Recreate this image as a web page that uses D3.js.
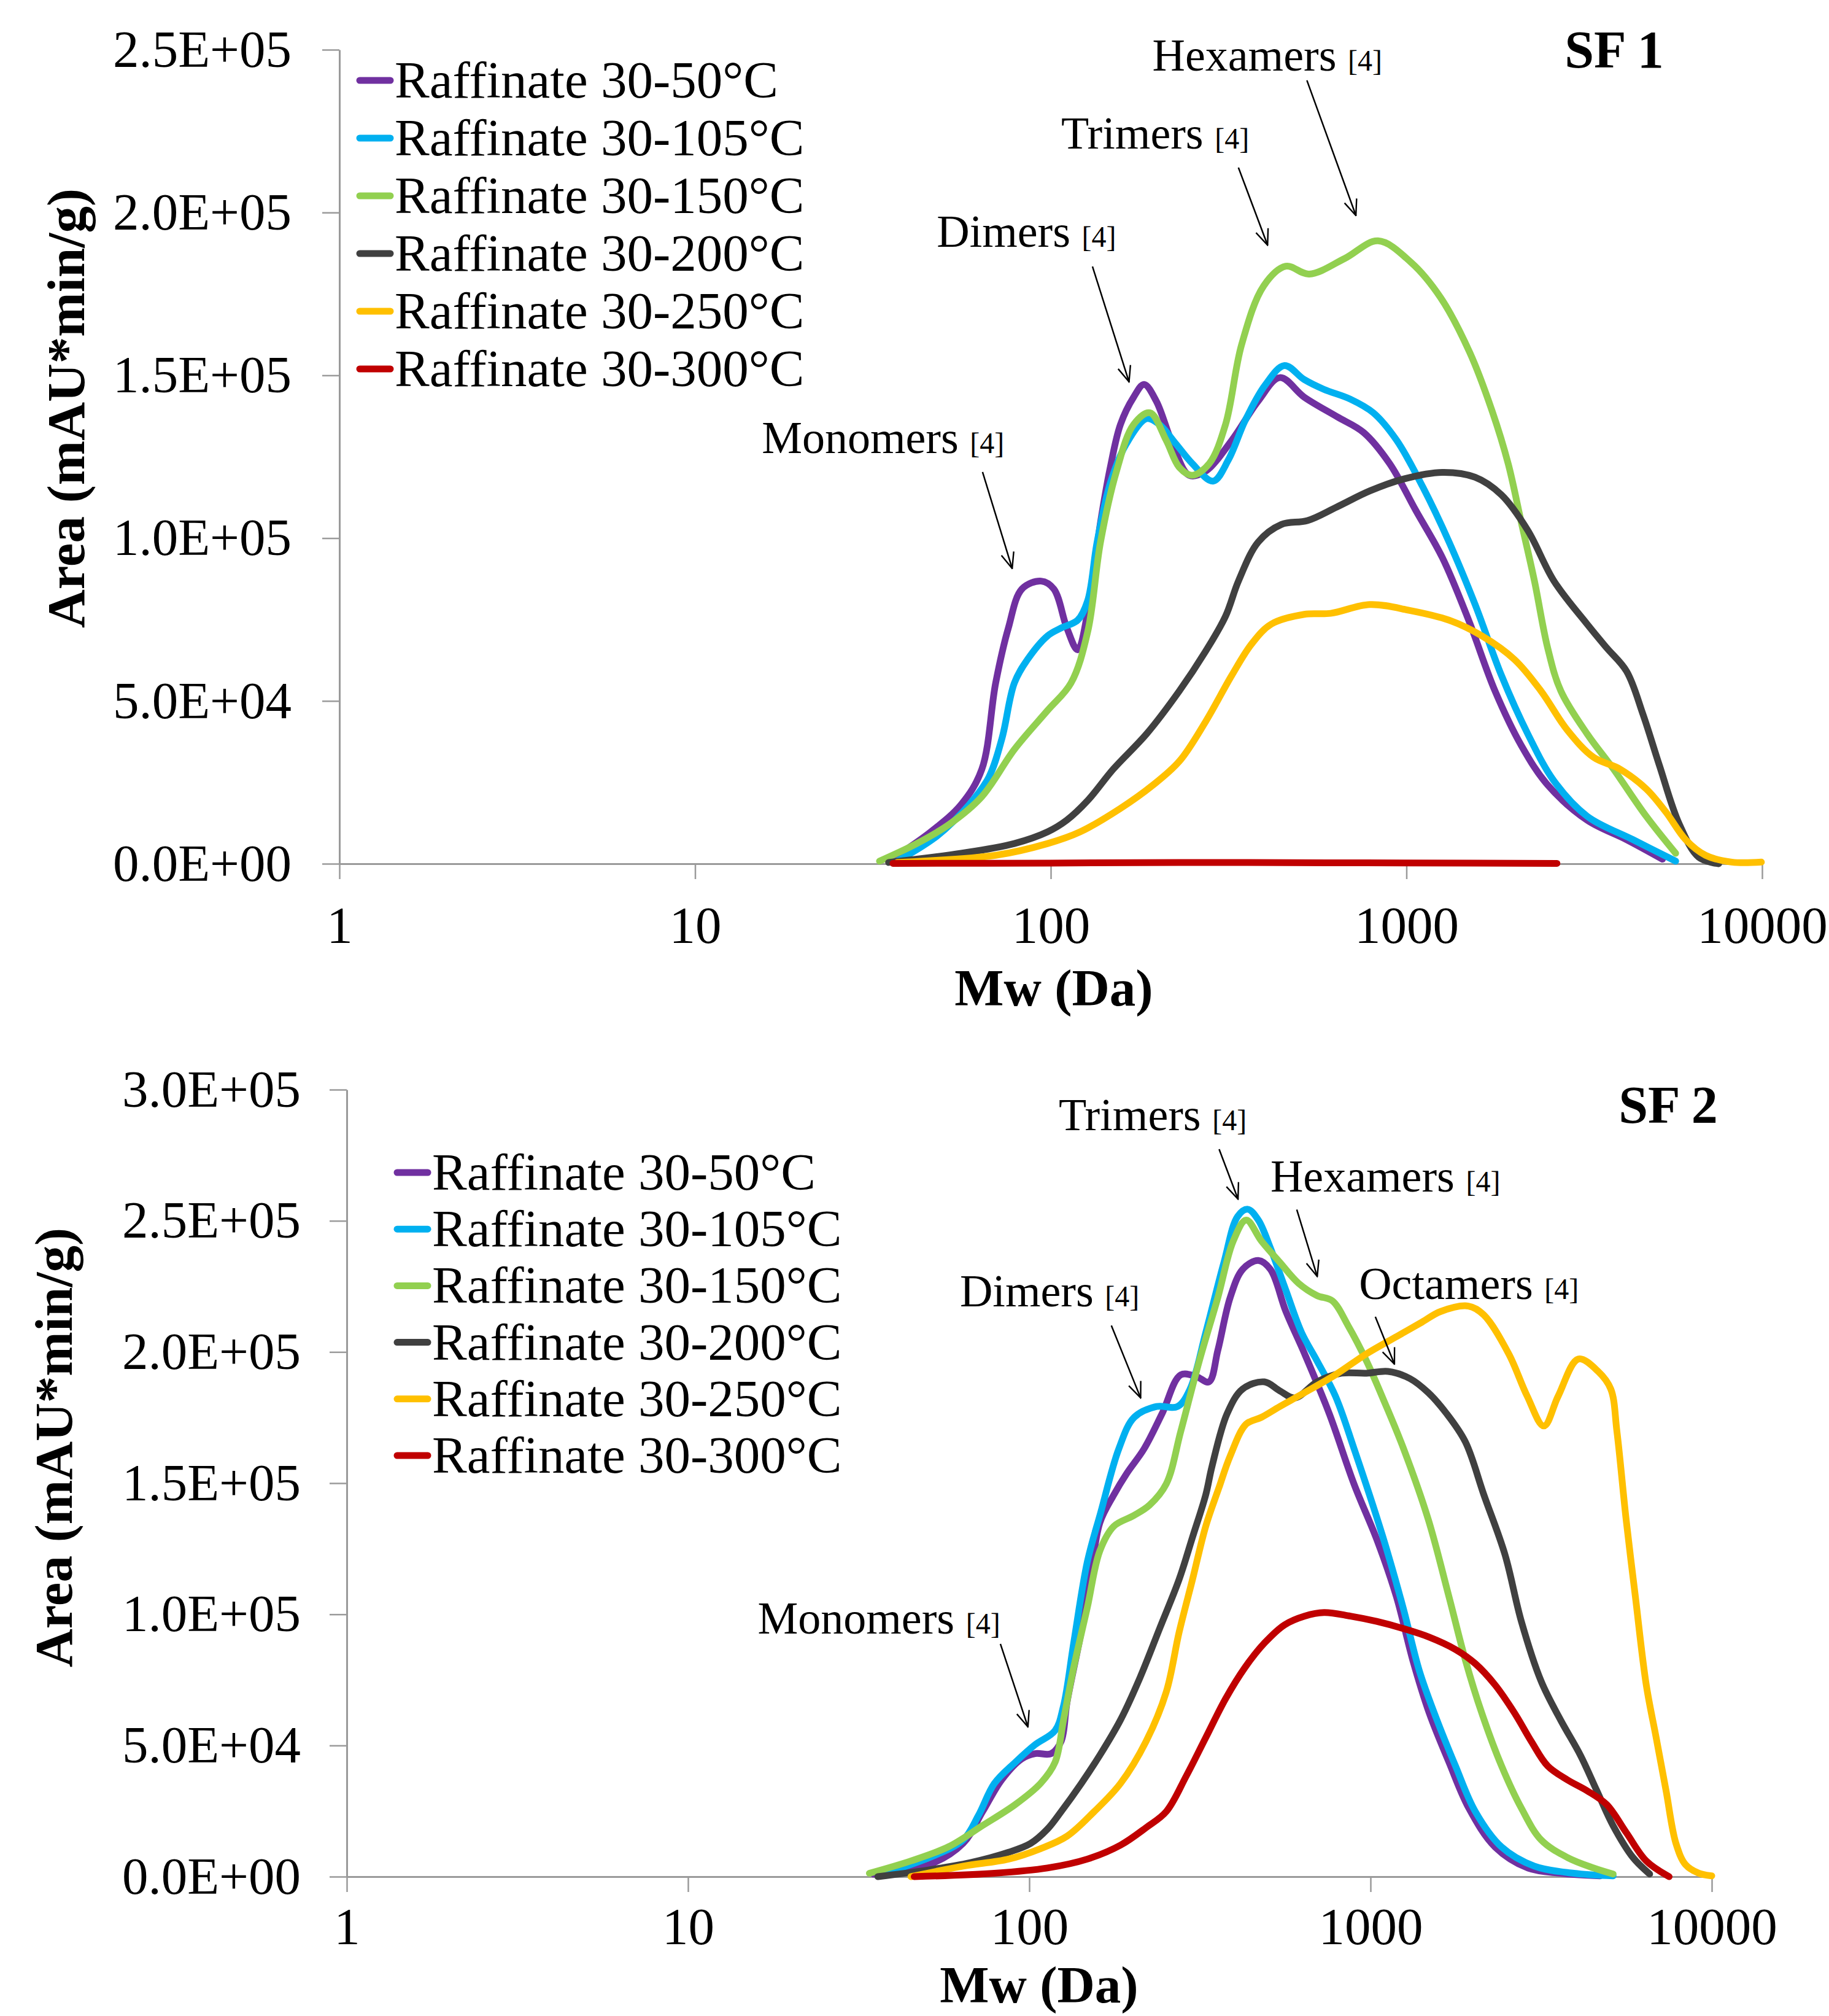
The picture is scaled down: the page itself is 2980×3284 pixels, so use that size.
<!DOCTYPE html>
<html>
<head>
<meta charset="utf-8">
<script src="https://cdn.jsdelivr.net/npm/d3@7"></script>
<style>
  body { margin: 0; background: #fff; }
  svg text { font-family: "Times New Roman", "Liberation Serif", serif; fill: #000; }
</style>
</head>
<body>
<div id="chart"></div>
<script>
// Molecular weight distributions of the raffinates, two panels (SF 1 / SF 2)

const SERIES = ['Raffinate 30-50°C', 'Raffinate 30-105°C', 'Raffinate 30-150°C',
    'Raffinate 30-200°C', 'Raffinate 30-250°C', 'Raffinate 30-300°C'];
const COLORS = ['#7030A0', '#00B0F0', '#92D050', '#404040', '#FFC000', '#C00000'];

const X_TICKS = [1, 10, 100, 1000, 10000];
const SF1_Y_TICKS = [0, 5e4, 1e5, 1.5e5, 2e5, 2.5e5];
const SF2_Y_TICKS = [0, 5e4, 1e5, 1.5e5, 2e5, 2.5e5, 3e5];

// [Mw (Da), area (mAU*min/g)]
const SF1_50 = [[35, 800], [46, 9800], [56, 18200], [64, 29000], [70, 55500], [76, 72400], [83, 84400],
    [94, 86800], [102, 84400], [111, 72400], [119, 65700], [127, 77200], [138, 104800], [147, 121700],
    [157, 134900], [171, 143300], [183, 147200], [198, 142100], [220, 128900], [245, 119300], [272, 120500],
    [323, 130100], [383, 142100], [441, 149300], [516, 143300], [638, 137300], [757, 132500], [897, 122900],
    [1064, 108400], [1262, 94000], [1496, 74800], [1774, 53100], [2104, 36300], [2495, 24200], [3221, 13400],
    [4159, 7400], [5248, 1400]];
const SF1_105 = [[37, 800], [48, 8600], [59, 18200], [67, 26600], [73, 38700], [79, 55500], [86, 62700],
    [98, 70000], [107, 72400], [119, 74800], [127, 80800], [135, 98800], [147, 116900], [163, 128900],
    [186, 136700], [202, 134900], [225, 128900], [250, 122900], [286, 117500], [316, 124100], [352, 136100],
    [400, 146900], [454, 153000], [516, 148700], [586, 145700], [695, 142700], [807, 138500], [938, 130100],
    [1112, 115700], [1318, 98800], [1560, 79600], [1849, 57900], [2193, 39900], [2600, 25400], [3221, 14600],
    [4335, 7400], [5715, 800]];
const SF1_150 = [[33, 800], [42, 6200], [52, 12200], [64, 20600], [79, 35100], [98, 47100], [114, 55500],
    [127, 71200], [138, 98800], [153, 120500], [171, 134900], [190, 138500], [211, 130100], [230, 121700],
    [250, 119300], [279, 122900], [310, 134900], [344, 159400], [397, 177500], [458, 183500], [533, 181100],
    [671, 185900], [832, 191300], [1030, 184700], [1247, 173900], [1507, 157000], [1742, 139000],
    [1932, 122900], [2104, 104800], [2291, 86800], [2495, 66300], [2716, 53100], [3221, 39900],
    [3819, 29100], [4721, 14600], [5715, 3200]];
const SF1_200 = [[35, 400], [56, 3200], [79, 6200], [98, 9800], [111, 13400], [127, 19400], [150, 29100],
    [186, 39900], [230, 53100], [272, 65100], [310, 76000], [337, 86800], [383, 98800], [445, 104200],
    [527, 105400], [638, 109600], [789, 114500], [977, 118100], [1262, 120200], [1560, 118700],
    [1849, 113300], [2193, 102400], [2600, 86800], [3221, 73600], [3656, 66300], [4159, 59100],
    [4624, 45900], [5140, 30300], [5848, 12200], [6637, 2000], [7551, 0]];
const SF1_250 = [[37, 400], [70, 2600], [98, 6200], [121, 9800], [157, 17000], [194, 24200], [230, 31500],
    [272, 43500], [323, 57900], [367, 67500], [417, 73600], [516, 76600], [612, 76900], [789, 79600],
    [1021, 77800], [1318, 74800], [1629, 70000], [2014, 62700], [2388, 53100], [2831, 41100], [3357, 32700],
    [3981, 29100], [4721, 23000], [5370, 15800], [6095, 7400], [6934, 2600], [8222, 500], [9954, 500]];
const SF1_300 = [[36, 100], [100, 200], [250, 400], [600, 300], [1000, 250], [2650, 100]];

const SF2_50 = [[35, 950], [51, 4600], [64, 12700], [73, 24800], [83, 36900], [95, 44900], [104, 46900],
    [116, 46900], [124, 51600], [129, 66400], [142, 93300], [151, 113400], [161, 134900], [177, 145600],
    [193, 153700], [217, 163100], [245, 176500], [278, 191300], [309, 190600], [336, 188600], [357, 200700],
    [388, 220800], [422, 231500], [469, 234900], [509, 231500], [565, 215400], [641, 199300], [757, 176500],
    [895, 149600], [1047, 128000], [1191, 106700], [1330, 82500], [1486, 62400], [1698, 43600],
    [1941, 26100], [2317, 11300], [2891, 3300], [3606, 1300], [4710, 300]];
const SF2_105 = [[36, 500], [51, 7300], [64, 14000], [71, 23400], [79, 35500], [91, 43600], [104, 50300],
    [119, 55700], [126, 65100], [135, 89200], [148, 120100], [162, 138900], [183, 163100], [203, 175100],
    [236, 179200], [272, 179200], [296, 185900], [329, 207400], [372, 234200], [408, 251700], [437, 254400],
    [469, 250300], [509, 239600], [565, 223500], [628, 207400], [697, 196600], [789, 183200], [895, 163100],
    [1084, 130000], [1245, 102700], [1390, 78500], [1552, 61000], [1774, 42200], [2028, 24800],
    [2421, 11300], [3020, 4000], [3945, 1300], [5140, 300]];
const SF2_150 = [[34, 1300], [45, 6000], [58, 11400], [73, 19500], [91, 27500], [108, 35600], [119, 43600],
    [126, 59700], [135, 79800], [148, 102700], [161, 124200], [177, 133600], [202, 137600], [225, 141600],
    [252, 149700], [278, 169800], [315, 196600], [357, 220800], [396, 242300], [432, 250300], [479, 242300],
    [542, 234200], [615, 226200], [697, 221500], [773, 219500], [859, 210100], [973, 196600], [1102, 180500],
    [1250, 163100], [1476, 136200], [1698, 106700], [1897, 82500], [2118, 62400], [2421, 42200],
    [2767, 26100], [3162, 14000], [3776, 7300], [4508, 3300], [5140, 1000]];
const SF2_200 = [[36, 0], [51, 2600], [67, 5300], [87, 9300], [101, 12700], [113, 18100], [124, 24800],
    [142, 35500], [161, 46300], [185, 59700], [211, 75800], [241, 94600], [275, 113400], [301, 129500],
    [329, 145600], [343, 156300], [380, 176500], [422, 185900], [489, 188600], [542, 185200], [601, 182500],
    [697, 188600], [822, 191900], [973, 191900], [1125, 192600], [1303, 189900], [1476, 184500],
    [1671, 176500], [1897, 165700], [2148, 145600], [2477, 122800], [2767, 97300], [3162, 74500],
    [3606, 59700], [4121, 46300], [4603, 32800], [5140, 19400], [5875, 7300], [6577, 1000]];
const SF2_250 = [[45, 0], [64, 4000], [87, 6700], [108, 10700], [129, 15400], [155, 24800], [185, 35500],
    [220, 51600], [252, 70400], [275, 93300], [301, 113400], [329, 133600], [359, 148000], [388, 160400],
    [432, 172500], [479, 175100], [542, 179200], [641, 184500], [789, 191300], [973, 199300], [1197, 206000],
    [1416, 211400], [1603, 215400], [1936, 217500], [2148, 214100], [2541, 199300], [2877, 183200],
    [3221, 171800], [3548, 183200], [4064, 197300], [4645, 192600], [5058, 185900], [5272, 169800],
    [5610, 136200], [5970, 106900], [6427, 73100], [6871, 53000], [7345, 32800], [7852, 12700],
    [8375, 4600], [9162, 1300], [10000, 300]];
const SF2_300 = [[46, 0], [79, 1300], [113, 3300], [148, 6700], [185, 12000], [220, 18700], [252, 24800],
    [288, 38200], [329, 53000], [376, 67800], [429, 79800], [490, 89200], [560, 96000], [640, 99300],
    [731, 100700], [873, 99300], [1042, 97300], [1245, 94600], [1486, 91300], [1774, 86600], [2028, 81200],
    [2317, 73100], [2642, 62400], [2958, 51600], [3304, 42200], [3776, 36900], [4305, 32800], [4920, 27500],
    [5623, 16700], [6427, 6000], [7499, 0]];

// peak labels: text anchor and arrow tail/tip, all in data units [Mw, area]
const SF1_NOTES = [
    { text: 'Monomers', at: [15.4, 126100], from: [64.3, 120300], to: [77.9, 90700] },
    { text: 'Dimers', at: [47.8, 189500], from: [131, 183400], to: [166, 148000] },
    { text: 'Trimers', at: [107, 219600], from: [337, 213800], to: [407, 190000] },
    { text: 'Hexamers', at: [193, 243600], from: [525, 240600], to: [721, 199100] }
];
const SF2_NOTES = [
    { text: 'Monomers', at: [16.0, 92700], from: [82.3, 88700], to: [99.1, 57100] },
    { text: 'Dimers', at: [62.6, 217400], from: [174, 210100], to: [212, 182500] },
    { text: 'Trimers', at: [122, 284500], from: [360, 277300], to: [409, 258300] },
    { text: 'Hexamers', at: [509, 261100], from: [608, 254300], to: [698, 228800] },
    { text: 'Octamers', at: [925, 220200], from: [1033, 213400], to: [1175, 195400] }
];

(function () {
    const W = 2980, H = 3284;
    const FONT = 85;
    const AXIS_GREY = '#9a9a9a';

    const svg = d3.select('#chart').append('svg')
        .attr('width', W).attr('height', H).style('display', 'block');

    svg.append('defs').append('marker')
        .attr('id', 'arrowhead').attr('viewBox', '0 0 20 20')
        .attr('refX', 19).attr('refY', 10)
        .attr('markerWidth', 30).attr('markerHeight', 30)
        .attr('markerUnits', 'userSpaceOnUse').attr('orient', 'auto')
        .append('path').attr('d', 'M2,3 L19,10 L2,17')
        .attr('fill', 'none').attr('stroke', '#000').attr('stroke-width', 1.6);

    function fmtE(v) {
        const [m, e] = v.toExponential(1).split('e');
        const n = Math.abs(+e);
        return m + 'E' + (+e < 0 ? '-' : '+') + String(n).padStart(2, '0');
    }

    function drawPanel(p) {
        const x = d3.scaleLog().domain([1, 10000]).range([p.left, p.right]);
        const y = d3.scaleLinear().domain([0, p.yMax]).range([p.bottom, p.top]);
        const g = svg.append('g');

        const yAxis = g.append('g').attr('transform', `translate(${p.left},0)`)
            .call(d3.axisLeft(y).tickValues(p.yTicks).tickFormat(fmtE)
                .tickSize(28).tickSizeOuter(0).tickPadding(p.yPad));
        const xAxis = g.append('g').attr('transform', `translate(0,${p.bottom})`)
            .call(d3.axisBottom(x).tickValues(X_TICKS).tickFormat(d3.format('d'))
                .tickSize(25).tickSizeOuter(0).tickPadding(p.xPad));
        [xAxis, yAxis].forEach(a => {
            a.attr('font-family', null).attr('font-size', null);
            a.select('.domain').attr('stroke', AXIS_GREY).attr('stroke-width', 3);
            a.selectAll('.tick line').attr('stroke', AXIS_GREY).attr('stroke-width', 2.5);
            a.selectAll('.tick text').style('font-size', FONT + 'px').attr('fill', '#000');
        });

        g.append('text').attr('x', p.xTitle[0]).attr('y', p.xTitle[1])
            .attr('text-anchor', 'middle').style('font-size', FONT + 'px').style('font-weight', 'bold')
            .text('Mw (Da)');
        g.append('text')
            .attr('transform', `translate(${p.yTitle[0]},${p.yTitle[1]}) rotate(-90)`)
            .attr('text-anchor', 'middle').style('font-size', '87px').style('font-weight', 'bold')
            .text('Area (mAU*min/g)');
        g.append('text').attr('x', p.tag[0]).attr('y', p.tag[1])
            .attr('text-anchor', 'middle').style('font-size', '86px').style('font-weight', 'bold')
            .text(p.tagText);

        const line = d3.line()
            .x(d => x(d[0])).y(d => y(d[1]))
            .curve(d3.curveCatmullRom.alpha(0.5));

        p.series.forEach((s, i) => {
            g.append('path').datum(s)
                .attr('d', line)
                .attr('fill', 'none')
                .attr('stroke', COLORS[i])
                .attr('stroke-width', 11)
                .attr('stroke-linecap', 'round')
                .attr('stroke-linejoin', 'round');
        });

        p.notes.forEach(n => {
            g.append('line')
                .attr('x1', x(n.from[0])).attr('y1', y(n.from[1]))
                .attr('x2', x(n.to[0])).attr('y2', y(n.to[1]))
                .attr('stroke', '#000').attr('stroke-width', 2.5)
                .attr('marker-end', 'url(#arrowhead)');
            const t = g.append('text').attr('x', x(n.at[0])).attr('y', y(n.at[1]))
                .style('font-size', '74px').text(n.text + ' ');
            t.append('tspan').style('font-size', '48px').text('[4]');
        });

        const legend = g.append('g').attr('transform', `translate(${p.legend[0]},${p.legend[1]})`);
        SERIES.forEach((name, i) => {
            const ly = i * p.legendStep;
            legend.append('line').attr('x1', 6).attr('x2', 56).attr('y1', ly).attr('y2', ly)
                .attr('stroke', COLORS[i]).attr('stroke-width', 11).attr('stroke-linecap', 'round');
            legend.append('text').attr('x', 63).attr('y', ly).attr('dy', '0.33em')
                .style('font-size', FONT + 'px').text(name);
        });
    }

    drawPanel({
        left: 553, right: 2871, top: 81, bottom: 1407, yMax: 2.5e5, yTicks: SF1_Y_TICKS,
        yPad: 50, xPad: 44,
        xTitle: [1717, 1638], yTitle: [137, 665], tag: [2630, 110], tagText: 'SF 1',
        legend: [580, 131], legendStep: 94,
        series: [SF1_50, SF1_105, SF1_150, SF1_200, SF1_250, SF1_300],
        notes: SF1_NOTES
    });

    // the bottom title sits at the page edge, so the tick labels are lifted a little
    drawPanel({
        left: 565, right: 2789, top: 1775, bottom: 3057, yMax: 3e5, yTicks: SF2_Y_TICKS,
        yPad: 47, xPad: 25,
        xTitle: [1693, 3262], yTitle: [117, 2358], tag: [2718, 1829], tagText: 'SF 2',
        legend: [641, 1910], legendStep: 92.2,
        series: [SF2_50, SF2_105, SF2_150, SF2_200, SF2_250, SF2_300],
        notes: SF2_NOTES
    });
})();
</script>
</body>
</html>
